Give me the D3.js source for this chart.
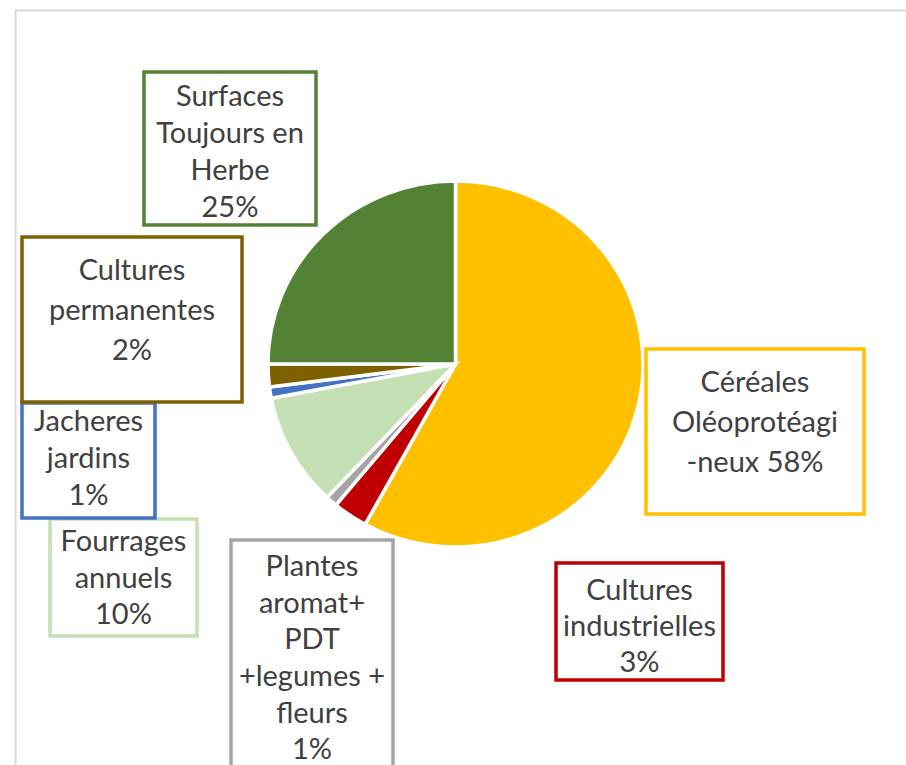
<!DOCTYPE html>
<html>
  <head>
    <meta charset="utf-8">
    <title> Surfaces agricoles </title>
    <script src="https://d3js.org/d3.v7.min.js"></script>
    <style>
      body { margin: 0; background: white; }
      text {
        font-family: Lato, "Open Sans", sans-serif;
        font-size: 29px;
        fill: #404040;
      }
    </style>
  </head>
  <body>
    <svg id="main" width="906" height="765"></svg>
    <script>

      // data, in drawing order (clockwise from the top)
      var categories = ['Céréales Oléoprotéagineux', 'Cultures industrielles',
        'Plantes aromat+ PDT +legumes + fleurs', 'Fourrages annuels',
        'Jacheres jardins', 'Cultures permanentes', 'Surfaces Toujours en Herbe'];
      var shares = [58, 3, 1, 10, 1, 2, 25];
      var colors = ['#ffc000', '#c00000', '#a5a5a5', '#c5e0b4', '#4472c4', '#7f6000', '#548235'];
      var labelLines = [
        ['Céréales', 'Oléoprotéagi', '-neux 58%'],
        ['Cultures', 'industrielles', '3%'],
        ['Plantes', 'aromat+', 'PDT', '+legumes +', 'fleurs', '1%'],
        ['Fourrages', 'annuels', '10%'],
        ['Jacheres', 'jardins', '1%'],
        ['Cultures', 'permanentes', '2%'],
        ['Surfaces', 'Toujours en', 'Herbe', '25%']
      ];

      // label boxes: x, y, width, height, first line centre, line step
      var boxes = [
        [646, 349, 218, 165, 382, 40],
        [556, 563, 167, 117, 590, 36],
        [231, 540, 162, 240, 566, 36.6],
        [50, 519, 147, 117, 541, 36.5],
        [22, 403, 133, 115, 421, 37],
        [22, 237, 220, 165, 270, 40],
        [144, 72, 172, 153, 96, 37]
      ];

      // the picture is a little wider than tall, so stretch x slightly
      var cx = 455.5, cy = 364, radius = 183, stretch = 1.025;
      var svg = d3.select('#main');

      // light chart frame
      svg.append('path')
        .attr('d', 'M15.5,765 L15.5,10.5 L906,10.5')
        .attr('fill', 'none')
        .attr('stroke', '#d9d9d9')
        .attr('stroke-width', 2);

      var pie = d3.pie().sort(null).value(function(d){ return d; });
      var arc = d3.arc().innerRadius(0).outerRadius(radius);

      svg.append('g')
        .attr('transform', 'translate(' + cx + ',' + cy + ') scale(' + stretch + ',1)')
        .selectAll('path')
        .data(pie(shares))
        .enter()
        .append('path')
        .attr('d', arc)
        .attr('fill', function(d, i){ return colors[i]; })
        .attr('stroke', 'white')
        .attr('stroke-width', 3.5);

      var lbl = svg.selectAll('g.lbl')
        .data(categories)
        .enter()
        .append('g')
        .attr('class', 'lbl');

      lbl.append('rect')
        .attr('x', function(d, i){ return boxes[i][0]; })
        .attr('y', function(d, i){ return boxes[i][1]; })
        .attr('width', function(d, i){ return boxes[i][2]; })
        .attr('height', function(d, i){ return boxes[i][3]; })
        .attr('fill', 'white')
        .attr('stroke', function(d, i){ return colors[i]; })
        .attr('stroke-width', 3.5);

      lbl.each(function(d, i){
        var b = boxes[i];
        d3.select(this).selectAll('text')
          .data(labelLines[i])
          .enter()
          .append('text')
          .attr('x', b[0] + b[2] / 2)
          .attr('y', function(t, j){ return b[4] + j * b[5]; })
          .attr('dy', '0.35em')
          .attr('text-anchor', 'middle')
          .text(function(t){ return t; });
      });

    </script>
  </body>
</html>
